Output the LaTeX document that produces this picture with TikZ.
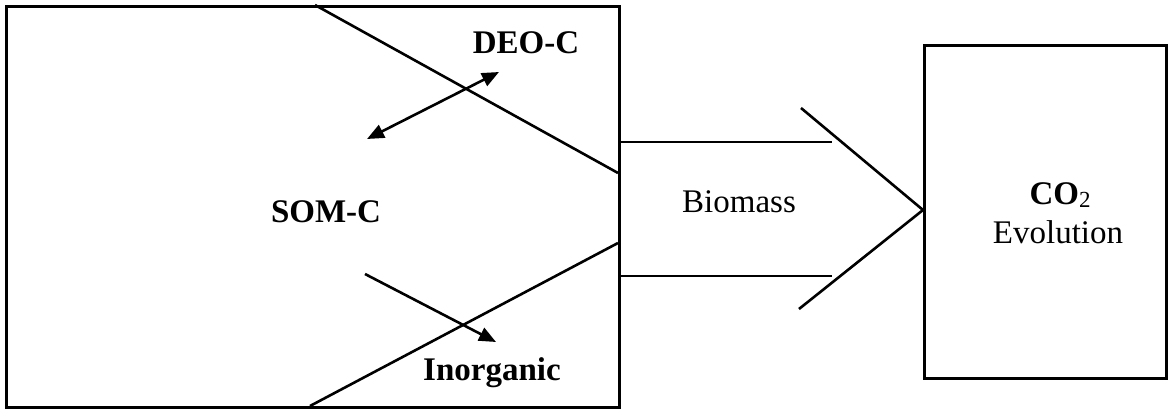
\documentclass[tikz,border=0pt]{standalone}
\usepackage{fontspec}
\setmainfont{Liberation Serif}
\usetikzlibrary{arrows.meta}
\begin{document}
\begin{tikzpicture}[x=1pt,y=-1pt,
  ln/.style={line width=2.6pt,black},
  boxnode/.style={draw,line width=2.6pt,inner sep=0pt,anchor=north west},
  lbl/.style={font=\fontsize{33}{36}\selectfont,inner sep=0pt},
  blbl/.style={font=\fontsize{33}{36}\selectfont\bfseries,inner sep=0pt},
  arr/.style={ln,-{Triangle[length=17pt,width=14pt]}},
  darr/.style={ln,{Triangle[length=17pt,width=14pt]}-{Triangle[length=17pt,width=14pt]}}]
\useasboundingbox (0,0) rectangle (1168,411);
% boxes
\node[boxnode,minimum width=613pt,minimum height=401pt] (som) at (5,5) {};
\node[boxnode,minimum width=242pt,minimum height=333pt] (co2) at (923,44) {};
% divider lines in SOM box
\coordinate (t1) at (315,5);
\coordinate (t2) at (618,173);
\coordinate (b1) at (310,406);
\coordinate (b2) at (618,243);
\draw[ln] (t1) -- (t2);
\draw[ln] (b1) -- (b2);
% labels
\node[blbl] (deo) at (526,43) {DEO-C};
\node[blbl] (somc) at (326,212) {SOM-C};
\node[blbl] (inorg) at (492,373) {Inorganic};
\node[lbl] (bio) at (739,202) {Biomass};
\node[lbl,anchor=base] (co2a) at (1060,205) {\textbf{CO}\raisebox{-0.08em}{\fontsize{23}{23}\selectfont 2}};
\node[lbl,anchor=base] (co2b) at (1058,244) {Evolution};
% arrows
\coordinate (d1) at (367,139);
\coordinate (d2) at (499,72);
\draw[darr] (d1) -- (d2);
\coordinate (i1) at (365,274);
\coordinate (i2) at (496,342);
\draw[arr] (i1) -- (i2);
% biomass big arrow
\coordinate (m1) at (618,142);
\coordinate (m2) at (832,142);
\coordinate (m3) at (618,276);
\coordinate (m4) at (832,276);
\coordinate (c1) at (801,108);
\coordinate (tip) at (923,210);
\coordinate (c2) at (799,309);
\draw[ln] (m1) -- (m2);
\draw[ln] (m3) -- (m4);
\draw[ln,line join=miter] (c1) -- (tip) -- (c2);
\end{tikzpicture}
\end{document}
